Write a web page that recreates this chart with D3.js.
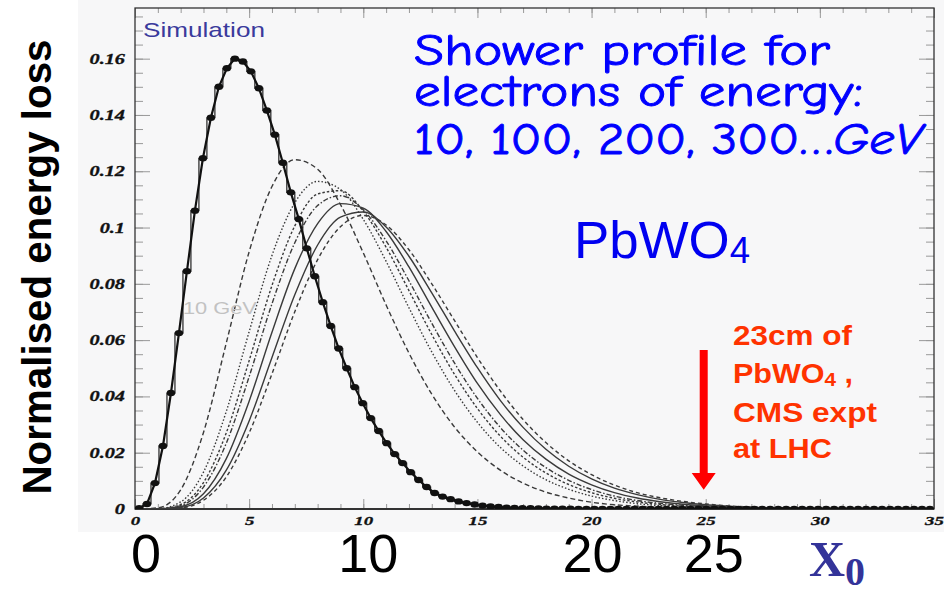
<!DOCTYPE html>
<html>
<head>
<meta charset="utf-8">
<script src="https://cdn.jsdelivr.net/npm/d3@7"></script>
<style>
  body { margin: 0; background: #fff; }
  svg { display: block; }
</style>
</head>
<body>
<svg id="chart" width="944" height="589"></svg>
<script>
// depth in radiation lengths (X0) for the smooth curves
var depth = [0, 1, 2, 3, 4, 5, 6, 7, 8, 9, 10, 11, 12, 13, 14, 15, 16, 17, 18, 19, 20,
             21, 22, 23, 24, 25, 26, 27, 28, 29, 30];

// the seven higher energy profiles
var curveA = [0, 0.0004, 0.0068, 0.0272, 0.0590, 0.0914, 0.1146, 0.1241, 0.1207, 0.1082, 0.0910,
              0.0725, 0.0554, 0.0408, 0.0291, 0.0203, 0.0138, 0.0092, 0.0060, 0.0039, 0.0024,
              0.0015, 0.0010, 0.0006, 0.0004, 0.0002, 0.0001, 0.0001, 0, 0, 0];
var curveB = [0, 0.0001, 0.0025, 0.0131, 0.0347, 0.0630, 0.0901, 0.1088, 0.1164, 0.1135, 0.1029,
              0.0880, 0.0715, 0.0558, 0.0421, 0.0308, 0.0219, 0.0153, 0.0104, 0.0070, 0.0046,
              0.0030, 0.0019, 0.0012, 0.0008, 0.0005, 0.0003, 0.0002, 0.0001, 0.0001, 0];
var curveC = [0, 0.00004, 0.0016, 0.0094, 0.0271, 0.0527, 0.0794, 0.1006, 0.1119, 0.1131, 0.1058,
              0.0930, 0.0776, 0.0620, 0.0478, 0.0357, 0.0259, 0.0184, 0.0128, 0.0087, 0.0058,
              0.0038, 0.0025, 0.0016, 0.0010, 0.0006, 0.0004, 0.0003, 0.0002, 0.0001, 0];
var curveD = [0, 0.00003, 0.0012, 0.0078, 0.0234, 0.0470, 0.0729, 0.0946, 0.1078, 0.1113, 0.1063,
              0.0953, 0.0811, 0.0660, 0.0518, 0.0393, 0.0290, 0.0209, 0.0147, 0.0102, 0.0069,
              0.0046, 0.0030, 0.0020, 0.0013, 0.0008, 0.0005, 0.0003, 0.0002, 0.0001, 0];
var curveE = [0, 0.00002, 0.0008, 0.0054, 0.0179, 0.0383, 0.0628, 0.0854, 0.1014, 0.1085, 0.1069,
              0.0986, 0.0860, 0.0717, 0.0576, 0.0446, 0.0336, 0.0246, 0.0177, 0.0124, 0.0086,
              0.0058, 0.0039, 0.0026, 0.0017, 0.0011, 0.0007, 0.0005, 0.0003, 0.0002, 0.0001];
var curveF = [0, 0.00001, 0.0005, 0.0039, 0.0138, 0.0313, 0.0538, 0.0761, 0.0938, 0.1037, 0.1055,
              0.1002, 0.0898, 0.0768, 0.0632, 0.0502, 0.0386, 0.0290, 0.0212, 0.0152, 0.0107,
              0.0074, 0.0051, 0.0034, 0.0023, 0.0015, 0.0010, 0.0006, 0.0004, 0.0003, 0.0002];
var curveG = [0, 0.00001, 0.0004, 0.0031, 0.0114, 0.0270, 0.0480, 0.0701, 0.0886, 0.1003, 0.1043,
              0.1009, 0.0921, 0.0800, 0.0669, 0.0538, 0.0420, 0.0318, 0.0236, 0.0171, 0.0122,
              0.0085, 0.0058, 0.0040, 0.0027, 0.0018, 0.0011, 0.0007, 0.0005, 0.0003, 0.0002];

// the histogram with markers: 100 bins over 0..35 X0
var binWidth = 0.35;
var hist = [0.0003, 0.0018, 0.0092, 0.0224, 0.0412, 0.0625, 0.0845, 0.1060, 0.1246, 0.1390,
            0.1500, 0.1566, 0.1600, 0.1590, 0.1555, 0.1495, 0.1416, 0.1330, 0.1230, 0.1125,
            0.1030, 0.0926, 0.0827, 0.0735, 0.0650, 0.0570, 0.0500, 0.0433, 0.0376, 0.0323,
            0.0277, 0.0234, 0.0195, 0.0163, 0.0131, 0.0103, 0.0078, 0.0057, 0.0044, 0.0035,
            0.0027, 0.0021, 0.0016, 0.0012, 0.0009, 0.0007, 0.0005, 0.0004, 0.0003, 0.00025,
            0.0002, 0.00015, 0.00012, 0.0001, 0.00008, 0.00006, 0.00005, 0.00004, 0.00003, 0.00003,
            0.00002, 0.00002, 0.00002, 0.00001, 0.00001, 0.00001, 0.00001, 0.00001, 0, 0,
            0, 0, 0, 0, 0, 0, 0, 0, 0, 0,
            0, 0, 0, 0, 0, 0, 0, 0, 0, 0,
            0, 0, 0, 0, 0, 0, 0, 0, 0, 0];

// tick labels
var yTicks = [0, 0.02, 0.04, 0.06, 0.08, 0.1, 0.12, 0.14, 0.16];
var xTicks = [0, 5, 10, 15, 20, 25, 30, 35];
var bigXLabels = [0, 10, 20, 25];

var series = [curveA, curveB, curveC, curveD, curveE, curveF, curveG];
var dashes = ["5,3", "1.5,2", "2.5,2", "5,2,1.5,2", null, null, "4,3"];

var svg = d3.select("#chart");

var x = d3.scaleLinear().domain([0, 35]).range([135, 934]);
var y = d3.scaleLinear().domain([0, 0.178]).range([509, 8]);

// grey pad behind the plot
svg.append("rect")
  .attr("x", 78).attr("y", 0)
  .attr("width", 866).attr("height", 532)
  .attr("fill", "#f7f7f8");

svg.append("clipPath").attr("id", "frame")
  .append("rect")
  .attr("x", x(0)).attr("y", y(0.178))
  .attr("width", x(35) - x(0)).attr("height", y(0) - y(0.178));

// ticks on all four sides, pointing inwards
function styleTicks(g) {
  g.select(".domain").remove();
  g.selectAll("line").attr("stroke", "#999").attr("stroke-width", 1);
}

function tickFont(sel) {
  sel.attr("font-family", "'Liberation Serif', 'Times New Roman', serif")
    .attr("font-weight", "bold")
    .attr("font-style", "italic")
    .attr("fill", "#111")
    .attr("stroke", "#111")
    .attr("stroke-width", 0.3);
}

var yAxis = svg.append("g")
  .attr("transform", "translate(" + x(0) + ",0)")
  .call(d3.axisLeft(y).tickValues(yTicks).tickSize(-15).tickPadding(10).tickFormat(d3.format("~g")));
styleTicks(yAxis);
yAxis.selectAll("text").call(tickFont)
  .attr("font-size", 14)
  .attr("x", -10 / 1.45)
  .attr("transform", "scale(1.45,1)");

svg.append("g")
  .attr("transform", "translate(" + x(0) + ",0)")
  .call(d3.axisLeft(y).tickValues(d3.range(0, 0.178, 0.005)).tickSize(-8).tickFormat(""))
  .call(styleTicks);

svg.append("g")
  .attr("transform", "translate(" + x(35) + ",0)")
  .call(d3.axisRight(y).tickValues(yTicks).tickSize(-15).tickFormat(""))
  .call(styleTicks);
svg.append("g")
  .attr("transform", "translate(" + x(35) + ",0)")
  .call(d3.axisRight(y).tickValues(d3.range(0, 0.178, 0.005)).tickSize(-8).tickFormat(""))
  .call(styleTicks);

var xAxis = svg.append("g")
  .attr("transform", "translate(0," + y(0) + ")")
  .call(d3.axisBottom(x).tickValues(xTicks).tickSize(-10).tickPadding(7).tickFormat(d3.format("d")));
styleTicks(xAxis);
xAxis.selectAll("text").call(tickFont)
  .attr("font-size", 13)
  .attr("transform", "scale(1.45,1)");

svg.append("g")
  .attr("transform", "translate(0," + y(0) + ")")
  .call(d3.axisBottom(x).tickValues(d3.range(0, 36, 1)).tickSize(-5).tickFormat(""))
  .call(styleTicks);

svg.append("g")
  .attr("transform", "translate(0," + y(0.178) + ")")
  .call(d3.axisTop(x).tickValues(xTicks).tickSize(-10).tickFormat(""))
  .call(styleTicks);
svg.append("g")
  .attr("transform", "translate(0," + y(0.178) + ")")
  .call(d3.axisTop(x).tickValues(d3.range(0, 36, 1)).tickSize(-5).tickFormat(""))
  .call(styleTicks);

// frame lines
svg.append("rect")
  .attr("x", x(0)).attr("y", y(0.178))
  .attr("width", x(35) - x(0)).attr("height", y(0) - y(0.178))
  .attr("fill", "none").attr("stroke", "#333").attr("stroke-width", 1.3);
svg.append("line")
  .attr("x1", x(0)).attr("x2", x(35)).attr("y1", y(0)).attr("y2", y(0))
  .attr("stroke", "#333").attr("stroke-width", 2);

// smooth profiles
var plot = svg.append("g").attr("clip-path", "url(#frame)");

var smooth = d3.line()
  .x(function(d, i) { return x(depth[i]); })
  .y(function(d) { return y(d); })
  .curve(d3.curveMonotoneX);

plot.selectAll(".profile")
  .data(series)
  .enter()
  .append("path")
  .attr("class", "profile")
  .attr("d", smooth)
  .attr("fill", "none")
  .attr("stroke", "#3a3a3a")
  .attr("stroke-width", 1.4)
  .attr("stroke-dasharray", function(d, i) { return dashes[i]; });

// histogram: steps, line through bin centres, markers
var histPts = hist.map(function(v, i) { return { t: (i + 0.5) * binWidth, v: v }; });

var stepLine = d3.line()
  .x(function(d) { return x(d.t); })
  .y(function(d) { return y(d.v); })
  .curve(d3.curveStep);
var polyLine = d3.line()
  .x(function(d) { return x(d.t); })
  .y(function(d) { return y(d.v); });

plot.append("path").datum(histPts)
  .attr("d", stepLine)
  .attr("fill", "none").attr("stroke", "#222").attr("stroke-width", 1.2);
plot.append("path").datum(histPts)
  .attr("d", polyLine)
  .attr("fill", "none").attr("stroke", "#111").attr("stroke-width", 2.2);
plot.selectAll(".marker")
  .data(histPts)
  .enter()
  .append("ellipse")
  .attr("class", "marker")
  .attr("cx", function(d) { return x(d.t); })
  .attr("cy", function(d) { return y(d.v); })
  .attr("rx", 4.2).attr("ry", 3.2)
  .attr("fill", "#111");

// faint label inside the plot
svg.append("text")
  .attr("x", x(2.1)).attr("y", y(0.0693))
  .attr("font-family", "'Liberation Sans', Arial, sans-serif")
  .attr("font-size", 16)
  .attr("fill", "#c2c2c2")
  .attr("textLength", 74).attr("lengthAdjust", "spacingAndGlyphs")
  .text("10 GeV");

svg.append("text")
  .attr("x", 143).attr("y", 37)
  .attr("font-family", "'Liberation Sans', Arial, sans-serif")
  .attr("font-size", 21)
  .attr("fill", "#3a3a9c")
  .attr("textLength", 122).attr("lengthAdjust", "spacingAndGlyphs")
  .text("Simulation");

// title
var comic = "'Comic Sans MS', 'Comic Neue', 'Noto Sans', sans-serif";
var titleLines = [
  { txt: "Shower profile for", y: 65, w: 416 },
  { txt: "electrons of energy:", y: 106, w: 449 },
  { txt: "10, 100, 200, 300\u2026", y: 154, w: 508, tail: "GeV" }
];
titleLines.forEach(function(l) {
  var t = svg.append("text")
    .attr("x", 414).attr("y", l.y)
    .attr("font-family", comic)
    .attr("font-size", 44)
    .attr("fill", "#0000ff")
    .attr("stroke", "#0000ff")
    .attr("stroke-width", 0.9)
    .attr("textLength", l.w).attr("lengthAdjust", "spacingAndGlyphs");
  t.append("tspan").text(l.txt);
  if (l.tail) t.append("tspan").attr("font-style", "italic").text(l.tail);
});

var pb = svg.append("text")
  .attr("x", 574).attr("y", 258)
  .attr("font-family", "'Liberation Sans', Arial, sans-serif")
  .attr("font-size", 52)
  .attr("fill", "#0000f0")
  .attr("textLength", 176).attr("lengthAdjust", "spacingAndGlyphs");
pb.append("tspan").text("PbWO");
pb.append("tspan").attr("font-size", 36).attr("dy", 5).text("4");

// red annotation with arrow
var red = "#ff3300";
var redLines = [
  { y: 345, w: 119 },
  { y: 383, w: 120 },
  { y: 422, w: 144 },
  { y: 458, w: 99 }
];
redLines.forEach(function(l, i) {
  var t = svg.append("text")
    .attr("x", 733).attr("y", l.y)
    .attr("font-family", "'Liberation Sans', Arial, sans-serif")
    .attr("font-weight", "bold")
    .attr("font-size", 28)
    .attr("fill", red)
    .attr("textLength", l.w).attr("lengthAdjust", "spacingAndGlyphs");
  if (i === 0) t.text("23cm of");
  if (i === 1) {
    t.append("tspan").text("PbWO");
    t.append("tspan").attr("font-size", 19).attr("dy", 3).text("4");
    t.append("tspan").attr("dy", -3).text(" ,");
  }
  if (i === 2) t.text("CMS expt");
  if (i === 3) t.text("at LHC");
});

var ax = x(25) - 2;
svg.append("path")
  .attr("d", "M" + (ax - 4) + "," + y(0.0565) + "V" + y(0.0128) + "H" + (ax - 12) +
             "L" + ax + "," + y(0.0068) + "L" + (ax + 12) + "," + y(0.0128) +
             "H" + (ax + 4) + "V" + y(0.0565) + "Z")
  .attr("fill", "#ff0000");

// big slide labels below the axis
var bigOffset = { 0: 11, 10: 5, 20: 1, 25: 8 };
svg.selectAll(".big")
  .data(bigXLabels)
  .enter()
  .append("text")
  .attr("class", "big")
  .attr("x", function(d) { return x(d) + bigOffset[d]; })
  .attr("y", 572)
  .attr("text-anchor", "middle")
  .attr("font-family", "'Liberation Sans', Arial, sans-serif")
  .attr("font-size", 54)
  .attr("fill", "#000")
  .text(function(d) { return d; });

var x0 = svg.append("text")
  .attr("x", 809).attr("y", 576)
  .attr("font-family", "'Liberation Serif', 'Times New Roman', serif")
  .attr("font-weight", "bold")
  .attr("font-size", 50)
  .attr("fill", "#333399");
x0.append("tspan").text("X");
x0.append("tspan").attr("font-size", 40).attr("dy", 9).text("0");

// y title
svg.append("text")
  .attr("transform", "translate(51,267) rotate(-90)")
  .attr("text-anchor", "middle")
  .attr("font-family", "'Liberation Sans', Arial, sans-serif")
  .attr("font-weight", "bold")
  .attr("font-size", 40)
  .attr("fill", "#000")
  .attr("textLength", 455).attr("lengthAdjust", "spacingAndGlyphs")
  .text("Normalised energy loss");
</script>
</body>
</html>
